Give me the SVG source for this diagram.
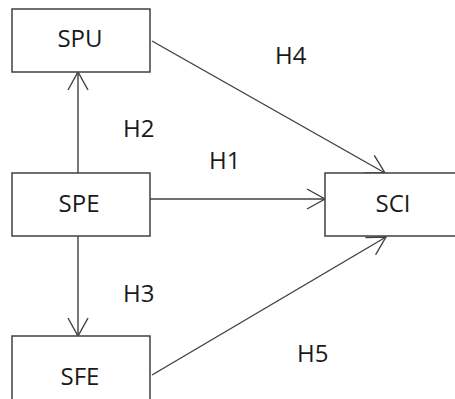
<svg xmlns="http://www.w3.org/2000/svg" width="455" height="399" viewBox="0 0 455 399">
<style>
.box{fill:#fff;stroke:#404040;stroke-width:1.5}
.lbl{font-family:"Open Sans",sans-serif;font-size:24px;fill:#1a1a1a;text-anchor:middle}
.h{font-family:"Open Sans",sans-serif;font-size:24px;fill:#1a1a1a}
.con{fill:none;stroke:#404040;stroke-width:1.4;marker-end:url(#arr)}
</style>
<defs>
<marker id="arr" markerUnits="userSpaceOnUse" viewBox="-20 -12 22 24" refX="0" refY="0" markerWidth="22" markerHeight="24" orient="auto" overflow="visible">
<path d="M-18,-10 L0,0 L-18,10" fill="none" stroke="#404040" stroke-width="1.4"/>
</marker>
</defs>
<rect width="455" height="399" fill="#fff"/>
<g id="connectors">
<line class="con" x1="78" y1="173" x2="78" y2="72"/>
<line class="con" x1="78" y1="236" x2="78" y2="336"/>
<line class="con" x1="150" y1="199" x2="325" y2="199"/>
<line class="con" x1="152" y1="41" x2="385" y2="173"/>
<line class="con" x1="152" y1="375" x2="386" y2="237"/>
</g>
<g id="SPU"><rect class="box" x="12" y="9" width="138" height="63"/><text class="lbl" x="80" y="47">SPU</text></g>
<g id="SPE"><rect class="box" x="12" y="173" width="138" height="63"/><text class="lbl" x="79" y="212">SPE</text></g>
<g id="SFE"><rect class="box" x="12" y="336" width="138" height="70"/><text class="lbl" x="80" y="385">SFE</text></g>
<g id="SCI"><rect class="box" x="325" y="173" width="140" height="63"/><text class="lbl" x="393" y="212">SCI</text></g>
<g id="labels">
<text class="h" x="275" y="64">H4</text>
<text class="h" x="123" y="137">H2</text>
<text class="h" x="209" y="169">H1</text>
<text class="h" x="123" y="302">H3</text>
<text class="h" x="297" y="362">H5</text>
</g>
</svg>
